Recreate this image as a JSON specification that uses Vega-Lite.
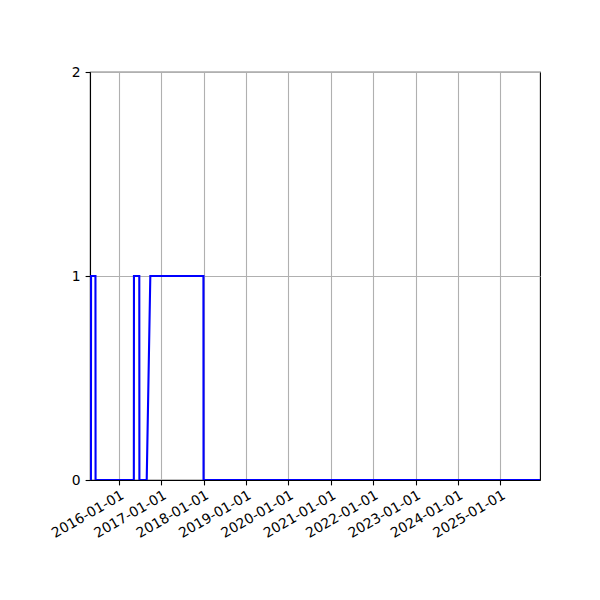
{
  "$schema": "https://vega.github.io/schema/vega-lite/v6.json",
  "width": 450,
  "height": 408,
  "autosize": {"type": "none"},
  "padding": {"left": 90, "top": 72, "right": 60, "bottom": 120},
  "background": "white",
  "data": {
    "values": [
      {"date": "2015-05-04", "value": 0},
      {"date": "2015-05-05", "value": 1},
      {"date": "2015-06-12", "value": 1},
      {"date": "2015-06-13", "value": 0},
      {"date": "2016-05-08", "value": 0},
      {"date": "2016-05-09", "value": 1},
      {"date": "2016-06-24", "value": 1},
      {"date": "2016-06-25", "value": 0},
      {"date": "2016-08-27", "value": 0},
      {"date": "2016-09-27", "value": 1},
      {"date": "2017-12-29", "value": 1},
      {"date": "2017-12-30", "value": 0},
      {"date": "2025-12-10", "value": 0}
    ]
  },
  "mark": {"type": "line", "color": "#0000ff", "strokeWidth": 2.1, "clip": true},
  "encoding": {
    "x": {
      "field": "date",
      "type": "temporal",
      "title": null,
      "scale": {
        "type": "utc",
        "nice": false,
        "domain": [
          {"year": 2015, "month": 4, "date": 26, "utc": true},
          {"year": 2025, "month": 12, "date": 9, "utc": true}
        ]
      },
      "axis": {
        "format": "%Y-%m-%d",
        "values": [
          {"year": 2016, "month": 1, "date": 1, "utc": true},
          {"year": 2017, "month": 1, "date": 1, "utc": true},
          {"year": 2018, "month": 1, "date": 1, "utc": true},
          {"year": 2019, "month": 1, "date": 1, "utc": true},
          {"year": 2020, "month": 1, "date": 1, "utc": true},
          {"year": 2021, "month": 1, "date": 1, "utc": true},
          {"year": 2022, "month": 1, "date": 1, "utc": true},
          {"year": 2023, "month": 1, "date": 1, "utc": true},
          {"year": 2024, "month": 1, "date": 1, "utc": true},
          {"year": 2025, "month": 1, "date": 1, "utc": true}
        ],
        "labelAngle": -30,
        "labelAlign": "right",
        "labelBaseline": "top",
        "labelPadding": 3
      }
    },
    "y": {
      "field": "value",
      "type": "quantitative",
      "title": null,
      "scale": {"domain": [0, 2], "nice": false},
      "axis": {"tickCount": 2, "format": "d"}
    }
  },
  "config": {
    "view": {"stroke": "black", "strokeWidth": 1.1},
    "axis": {
      "grid": true,
      "gridColor": "#b0b0b0",
      "gridWidth": 1.1,
      "gridOpacity": 1,
      "domainColor": "black",
      "domainWidth": 1.1,
      "tickColor": "black",
      "tickWidth": 1.1,
      "tickSize": 4.9,
      "labelColor": "black",
      "labelFont": "DejaVu Sans",
      "labelFontSize": 13.9,
      "labelPadding": 4.9,
      "labelOverlap": false,
      "labelFlush": false
    }
  }
}
